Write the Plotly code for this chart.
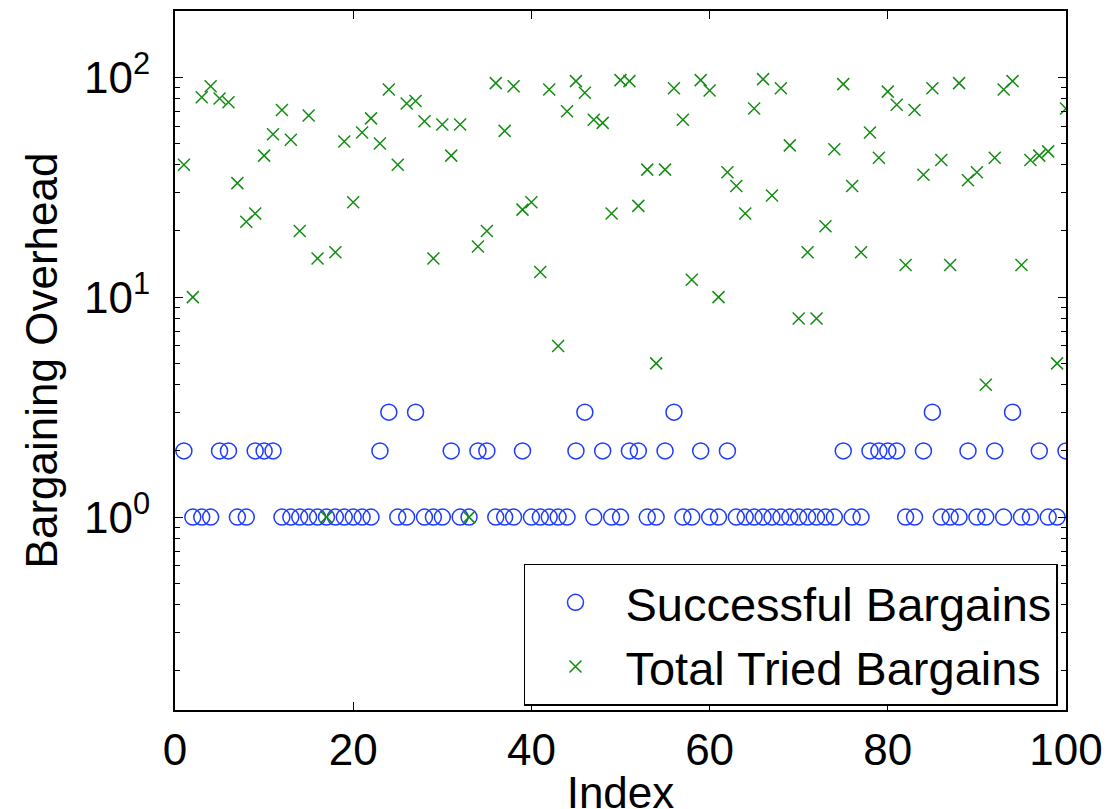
import plotly.graph_objects as go

index = list(range(1, 101))

successful = [
    2, 1, 1, 1, 2, 2, 1, 1, 2, 2,
    2, 1, 1, 1, 1, 1, 1, 1, 1, 1,
    1, 1, 2, 3, 1, 1, 3, 1, 1, 1,
    2, 1, 1, 2, 2, 1, 1, 1, 2, 1,
    1, 1, 1, 1, 2, 3, 1, 2, 1, 1,
    2, 2, 1, 1, 2, 3, 1, 1, 2, 1,
    1, 2, 1, 1, 1, 1, 1, 1, 1, 1,
    1, 1, 1, 1, 2, 1, 1, 2, 2, 2,
    2, 1, 1, 2, 3, 1, 1, 1, 2, 1,
    1, 2, 1, 3, 1, 1, 2, 1, 1, 2,
]

total_tried = [
    40, 10, 81, 91, 80, 77, 33, 22, 24, 44,
    55, 71, 52, 20, 67, 15, 1, 16, 51, 27,
    56, 65, 50, 88, 40, 76, 78, 63, 15, 61,
    44, 61, 1, 17, 20, 94, 57, 91, 25, 27,
    13, 88, 6, 70, 96, 85, 64, 62, 24, 97,
    96, 26, 38, 5, 38, 89, 64, 12, 97, 87,
    10, 37, 32, 24, 72, 98, 29, 89, 49, 8,
    16, 8, 21, 47, 93, 32, 16, 56, 43, 86,
    75, 14, 71, 36, 89, 42, 14, 94, 34, 37,
    4, 43, 88, 96, 14, 42, 44, 46, 5, 72,
]

x_ticks = [0, 20, 40, 60, 80, 100]
y_ticks = [1, 10, 100]
y_tick_text = ["10<sup>0</sup>", "10<sup>1</sup>", "10<sup>2</sup>"]

FONT = "Liberation Sans, Arial, Helvetica, sans-serif"
BLUE = "rgb(30,60,255)"
GREEN = "rgb(20,140,20)"

fig = go.Figure()
fig.add_trace(go.Scatter(
    x=index, y=successful, mode="markers", name="Successful Bargains",
    marker=dict(symbol="circle-open", size=16, color=BLUE,
                line=dict(width=1.5, color=BLUE)),
))
fig.add_trace(go.Scatter(
    x=index, y=total_tried, mode="markers", name="Total Tried Bargains",
    marker=dict(symbol="x-thin-open", size=12, color=GREEN,
                line=dict(width=1.5, color=GREEN)),
))

minor_vals = [m * 10 ** e for e in (-1, 0, 1, 2) for m in range(2, 10)]

# page body has an 8px margin, compensated in the figure margins
fig.update_layout(
    width=1111, height=809,
    margin=dict(l=167, r=53, t=3, b=107, autoexpand=False),
    paper_bgcolor="white", plot_bgcolor="white",
    font=dict(family=FONT, size=44, color="black"),
    showlegend=True,
    legend=dict(
        x=0.991, xanchor="right", y=0.006, yanchor="bottom",
        bordercolor="black", borderwidth=1.5, bgcolor="white",
        font=dict(size=47), itemwidth=90,
    ),
    xaxis=dict(
        range=[0, 100], tickvals=x_ticks, ticks="inside", ticklen=8,
        tickwidth=1, tickcolor="black", showline=True, linecolor="black",
        linewidth=2, mirror="ticks", showgrid=False, zeroline=False,
        automargin=False,
        title=dict(text="Index", font=dict(size=44), standoff=10),
        tickfont=dict(size=44),
    ),
    yaxis=dict(
        type="log", range=[-0.877, 2.301], tickvals=y_ticks,
        ticktext=y_tick_text, ticks="inside", ticklen=8, tickwidth=1,
        tickcolor="black", showline=True, linecolor="black", linewidth=2,
        mirror="ticks", showgrid=False, zeroline=False,
        automargin=False, ticklabelstandoff=14,
        minor=dict(tickvals=minor_vals, ticks="inside", ticklen=5,
                   tickwidth=1, tickcolor="black", showgrid=False),
        title=dict(text="Bargaining Overhead", font=dict(size=44), standoff=13),
        tickfont=dict(size=44),
    ),
)

fig.write_html("out.html")
